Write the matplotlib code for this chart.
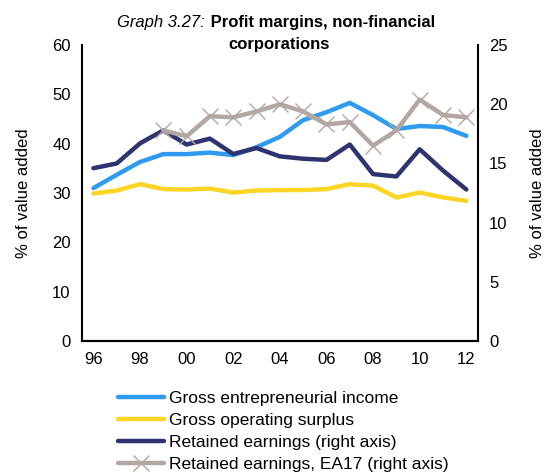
import matplotlib.pyplot as plt

plt.rcParams['font.family'] = ['Liberation Sans', 'DejaVu Sans']

years = list(range(1996, 2013))
year_labels = ['96', '98', '00', '02', '04', '06', '08', '10', '12']

gross_income = [31.0, 33.7, 36.3, 37.9, 37.9, 38.2, 37.7, 39.3, 41.4, 44.8,
                46.4, 48.3, 45.8, 43.0, 43.6, 43.4, 41.6]
gross_surplus = [29.9, 30.5, 31.8, 30.8, 30.7, 30.9, 30.1, 30.5, 30.6, 30.6,
                 30.8, 31.8, 31.5, 29.1, 30.1, 29.1, 28.4]
retained = [14.6, 15.0, 16.7, 17.8, 16.6, 17.1, 15.8, 16.3, 15.6, 15.4,
            15.3, 16.6, 14.1, 13.9, 16.2, 14.4, 12.8]
ea17_years = list(range(1999, 2013))
retained_ea17 = [17.8, 17.3, 19.0, 18.9, 19.4, 20.0, 19.4, 18.3, 18.5, 16.5,
                 17.8, 20.4, 19.1, 18.9]

c_blue = '#2f9bf0'
c_yellow = '#fed524'
c_navy = '#2d3470'
c_grey = '#b3a8a1'

fig = plt.figure(figsize=(5.45, 4.76), dpi=100)
ax = fig.add_axes([0.150, 0.284, 0.727, 0.621])
ax2 = ax.twinx()

lw = 3.2
l1, = ax.plot(years, gross_income, color=c_blue, lw=lw, solid_capstyle='round')
l2, = ax.plot(years, gross_surplus, color=c_yellow, lw=lw, solid_capstyle='round')
l3, = ax2.plot(years, retained, color=c_navy, lw=lw, solid_capstyle='round')
l4, = ax2.plot(ea17_years, retained_ea17, color=c_grey, lw=lw, marker='x',
               markersize=11, markeredgewidth=1.0, solid_capstyle='round')

ax.set_xlim(1995.5, 2012.5)
ax.set_ylim(0, 60)
ax2.set_ylim(0, 25)
ax.set_yticks(range(0, 61, 10))
ax2.set_yticks(range(0, 26, 5))
ax.set_xticks(range(1996, 2013, 2))
ax.set_xticklabels(year_labels)

for a in (ax, ax2):
    a.spines['top'].set_visible(False)
    for s in a.spines.values():
        s.set_linewidth(1.5)
    a.tick_params(length=0, labelsize=12, pad=8)
ax2.spines['left'].set_visible(False)
ax.spines['right'].set_visible(False)

ax.set_ylabel('% of value added', fontsize=12)
ax2.set_ylabel('% of value added', fontsize=12)
ax.yaxis.set_label_coords(-0.127, 0.5)
ax2.yaxis.set_label_coords(1.131, 0.5)

fig.text(0.376, 0.968, 'Graph 3.27:', fontsize=12, fontstyle='italic',
         ha='right', va='top')
fig.text(0.378, 0.968, ' Profit margins, non-financial', fontsize=12,
         fontweight='bold', ha='left', va='top')
fig.text(0.512, 0.922, 'corporations', fontsize=12, fontweight='bold',
         ha='center', va='top')

fig.legend([l1, l2, l3, l4],
           ['Gross entrepreneurial income', 'Gross operating surplus',
            'Retained earnings (right axis)', 'Retained earnings, EA17 (right axis)'],
           loc='upper left', bbox_to_anchor=(0.217, 0.178), frameon=False,
           fontsize=12.5, handlelength=2.65, handletextpad=0.25,
           labelspacing=0.38, borderpad=0, borderaxespad=0)

fig.savefig('out.png', dpi=100)
